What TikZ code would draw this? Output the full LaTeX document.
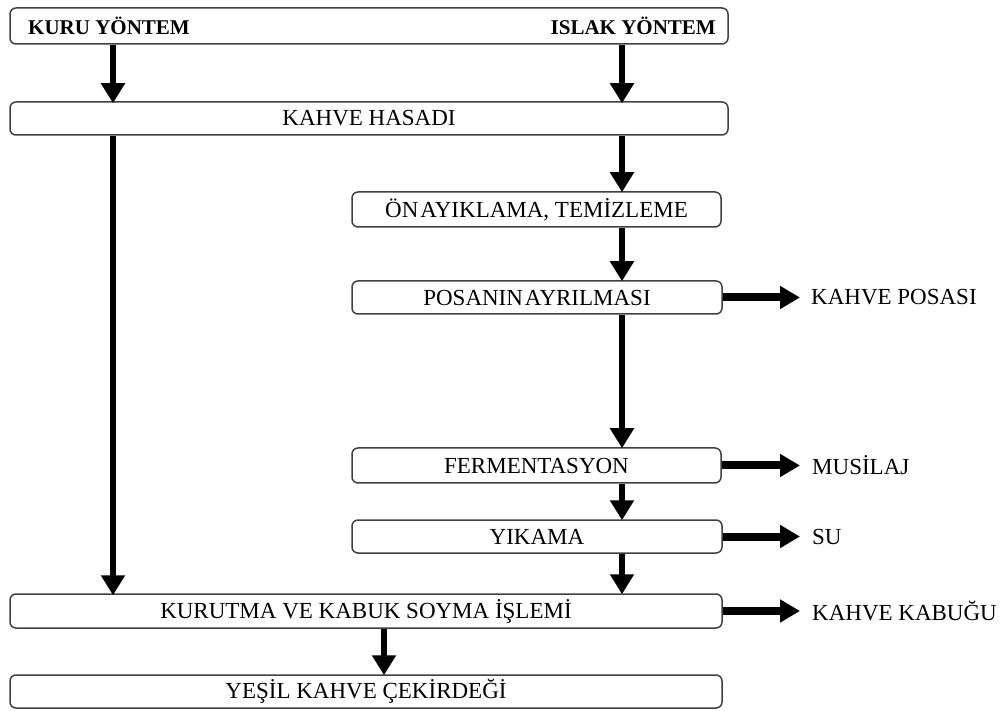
\documentclass[tikz,border=0pt]{standalone}
\usepackage{fontspec}
\setmainfont{Liberation Serif}
\usetikzlibrary{arrows.meta}
\begin{document}
\begin{tikzpicture}[x=1pt,y=-1pt,
  box/.style={draw=black!75,line width=1.5pt,rounded corners=6pt,fill=white,
    inner sep=0pt,font=\fontsize{23}{27}\selectfont},
  lbl/.style={inner sep=0pt,font=\fontsize{23}{27}\selectfont,anchor=west},
  hdr/.style={inner sep=0pt,font=\fontsize{21}{25}\selectfont\bfseries},
  varr/.style={line width=6.5pt,-{Triangle[width=23pt,length=20pt]}},
  harr/.style={line width=8pt,-{Triangle[width=22pt,length=20pt]}}]
\useasboundingbox (0,0) rectangle (1005,711);
% boxes
\node[box,minimum width=718pt,minimum height=36pt] (top) at (369,26) {};
\node[hdr,anchor=west] (kuru) at (28,26) {KURU YÖNTEM};
\node[hdr,anchor=east] (islak) at (716,26) {ISLAK YÖNTEM};
\node[box,minimum width=718pt,minimum height=33pt] (hasat) at (369,118.5) {KAHVE HASADI};
\node[box,minimum width=369pt,minimum height=35pt] (on) at (536.5,209.5) {ÖN\kern2pt AYIKLAMA, TEMİZLEME};
\node[box,minimum width=370pt,minimum height=33pt] (posa) at (537,297.5) {POSANIN\kern2pt AYRILMASI};
\node[box,minimum width=369pt,minimum height=35pt] (ferm) at (536.5,465.5) {FERMENTASYON};
\node[box,minimum width=370pt,minimum height=33pt] (yika) at (537,536.5) {YIKAMA};
\node[box,minimum width=712pt,minimum height=34pt] (kurut) at (366,611) {KURUTMA VE KABUK SOYMA İŞLEMİ};
\node[box,minimum width=712pt,minimum height=33pt] (yesil) at (366,691.5) {YEŞİL KAHVE ÇEKİRDEĞİ};
% side labels
\node[lbl] (kposa) at (811,297.5) {KAHVE POSASI};
\node[lbl] (musi) at (812,465.5) {MUSİLAJ};
\node[lbl] (su) at (812,536.5) {SU};
\node[lbl] (kabuk) at (812,611) {KAHVE KABUĞU};
% vertical arrows
\coordinate (xl) at (113,0);
\coordinate (xr) at (622,0);
\coordinate (xb) at (384,0);
\draw[varr] (top.south -| xl) -- ([yshift=-2pt]hasat.north -| xl);
\draw[varr] (top.south -| xr) -- ([yshift=-2pt]hasat.north -| xr);
\draw[varr] (hasat.south -| xl) -- ([yshift=-2pt]kurut.north -| xl);
\draw[varr] (hasat.south -| xr) -- ([yshift=-1pt]on.north -| xr);
\draw[varr] (on.south -| xr) -- ([yshift=-1pt]posa.north -| xr);
\draw[varr] (posa.south -| xr) -- ([yshift=-1pt]ferm.north -| xr);
\draw[varr] (ferm.south -| xr) -- ([yshift=-1pt]yika.north -| xr);
\draw[varr] (yika.south -| xr) -- ([yshift=-1pt]kurut.north -| xr);
\draw[varr] (kurut.south -| xb) -- ([yshift=-1pt]yesil.north -| xb);
% horizontal arrows
\draw[harr] (posa.east) -- ([xshift=-11pt]kposa.west);
\draw[harr] (ferm.east) -- ([xshift=-12pt]musi.west);
\draw[harr] (yika.east) -- ([xshift=-12pt]su.west);
\draw[harr] (kurut.east) -- ([xshift=-12pt]kabuk.west);
\end{tikzpicture}
\end{document}
